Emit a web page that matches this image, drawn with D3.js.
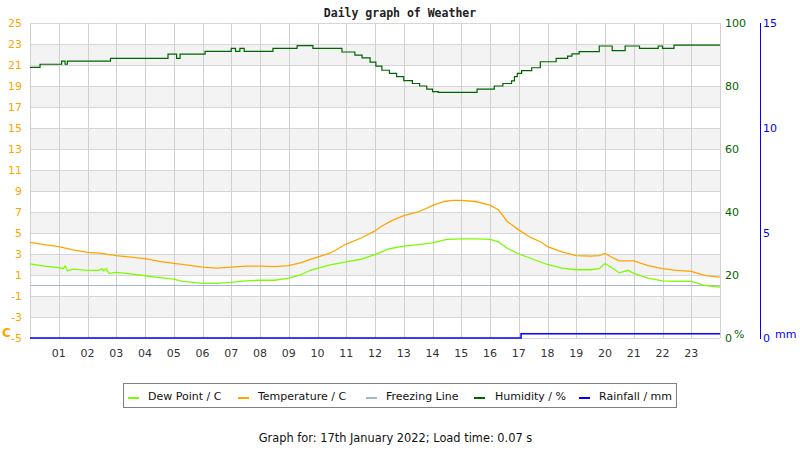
<!DOCTYPE html>
<html><head><meta charset="utf-8">
<script src="https://cdn.jsdelivr.net/npm/d3@7"></script>
<style>body{margin:0;background:#fff}svg{display:block;font-family:"DejaVu Sans",sans-serif}</style>
</head><body><svg id="c" width="800" height="450"></svg>
<script>
const hourLabels = ["01","02","03","04","05","06","07","08","09","10","11","12","13","14","15","16","17","18","19","20","21","22","23"];
const tempTicks = [-5,-3,-1,1,3,5,7,9,11,13,15,17,19,21,23,25];
const humTicks = [0,20,40,60,80,100];
const rainTicks = [0,5,10,15];

const tempTimes  = [0,0.5,1,1.5,2,2.5,3,3.5,4,4.5,5,5.5,6,6.5,7,7.5,8,8.5,9,9.4,9.7,10,10.45,11,11.5,12,12.2,12.6,13,13.5,14,14.4,14.7,15,15.5,16,16.3,16.6,17,17.4,17.8,18,18.5,19,19.5,19.8,20,20.3,20.5,21,21.5,22,22.5,23,23.5,24];
const tempValues = [4.1,3.9,3.7,3.4,3.15,3.05,2.85,2.7,2.55,2.3,2.1,1.95,1.75,1.65,1.75,1.85,1.85,1.8,1.9,2.15,2.45,2.7,3.1,3.95,4.5,5.2,5.6,6.2,6.65,7.0,7.6,8.0,8.1,8.1,8.0,7.65,7.2,6.1,5.3,4.6,4.1,3.7,3.2,2.85,2.8,2.85,3.05,2.6,2.35,2.35,1.9,1.6,1.45,1.35,0.95,0.8];

const dewTimes  = [0,0.5,1,1.15,1.22,1.3,1.5,2,2.4,2.5,2.55,2.65,2.75,3,3.5,4,4.5,5,5.3,5.7,6,6.5,7,7.5,8,8.5,9,9.4,9.75,10.4,11,11.5,12,12.5,13,13.5,14,14.5,15,15.5,16,16.3,16.6,17,17.5,18,18.5,19,19.5,19.8,20,20.3,20.5,20.8,21,21.5,22,22.5,23,23.5,24];
const dewValues = [2.05,1.85,1.7,1.6,1.85,1.4,1.55,1.45,1.45,1.6,1.4,1.6,1.16,1.25,1.1,0.93,0.75,0.6,0.4,0.3,0.2,0.2,0.3,0.45,0.5,0.5,0.7,1.0,1.45,1.95,2.25,2.5,2.95,3.5,3.75,3.9,4.05,4.4,4.45,4.45,4.4,4.15,3.55,3.0,2.5,2.0,1.65,1.5,1.5,1.6,2.1,1.6,1.2,1.45,1.15,0.7,0.45,0.4,0.4,0.0,-0.15];

const humTimes  = [0,0.35,1.1,1.22,1.3,2.8,4.8,5.1,5.22,6.09,7.0,7.15,7.3,7.45,8.45,9.29,9.84,10.85,11.3,11.55,11.83,12.03,12.24,12.5,12.75,13.0,13.3,13.55,13.8,14.0,14.2,15.55,16.15,16.45,16.75,16.85,16.95,17.1,17.45,17.75,18.3,18.7,18.85,19.1,19.8,20.25,20.7,21.2,21.85,22.0,22.4,24];
const humValues = [85.9,86.9,87.9,86.9,87.9,88.8,90.1,88.8,90.1,91.0,91.96,91.0,91.96,91.0,91.96,92.8,91.96,90.8,89.8,88.9,87.6,86.3,85.0,84.0,82.96,81.7,80.8,80.0,79.0,78.2,78.0,79.0,80.0,80.8,81.6,83.0,84.0,84.9,85.8,87.7,88.8,89.5,90.2,90.9,92.7,91.2,92.7,91.96,92.7,91.96,93.0,93.0];

const rainTimes  = [0,17.08,24];
const rainValues = [0,0.2,0.2];

const svg = d3.select("#c");
const L=30,R=720,T=23,B=338;
const x  = d3.scaleLinear([0,24],[L,R]);
const yT = d3.scaleLinear([-5,25],[B,T]);
const yH = d3.scaleLinear([0,100],[B,T]);
const yR = d3.scaleLinear([0,15],[B,T]);

svg.append("rect").attr("width",800).attr("height",450).attr("fill","#fff");

const bandStarts = [-3,1,5,9,13,17,21];
svg.selectAll("rect.band").data(bandStarts).enter().append("rect")
  .attr("x",L).attr("width",R-L)
  .attr("y",d=>yT(d+2)).attr("height",d=>yT(d)-yT(d+2)).attr("fill","#f3f3f3");

svg.selectAll("line.hg").data(tempTicks).enter().append("line")
  .attr("x1",L).attr("x2",R).attr("y1",d=>Math.round(yT(d))+0.5).attr("y2",d=>Math.round(yT(d))+0.5)
  .attr("stroke","#d6d6d6").attr("stroke-width",1);
svg.selectAll("line.vg").data(d3.range(0,25)).enter().append("line")
  .attr("y1",T).attr("y2",B).attr("x1",d=>Math.round(x(d))+0.5).attr("x2",d=>Math.round(x(d))+0.5)
  .attr("stroke","#d0d0d0").attr("stroke-width",1);

svg.append("text").attr("x",400).attr("y",17).attr("text-anchor","middle")
  .attr("font-family","DejaVu Sans Mono").attr("font-weight","bold").attr("font-size",11.5).attr("fill","#222")
  .text("Daily graph of Weather");

svg.selectAll("text.lt").data(tempTicks).enter().append("text")
  .attr("x",22).attr("y",d=>yT(d)+4).attr("text-anchor","end").attr("font-size",11).attr("fill","#ffa500")
  .text(d=>String(d));
svg.append("text").attr("x",2).attr("y",337).attr("font-size",12).attr("font-weight","bold").attr("fill","#ffa500").text("C");

svg.selectAll("text.ht").data(humTicks).enter().append("text")
  .attr("x",725).attr("y",d=>yH(d)+4).attr("font-size",11).attr("fill","#006400").text(d=>String(d));
svg.append("text").attr("x",734).attr("y",338).attr("font-size",11).attr("fill","#006400").text("%");

svg.append("line").attr("x1",760.5).attr("x2",760.5).attr("y1",T).attr("y2",B+1).attr("stroke","#0000ff").attr("stroke-width",1);
svg.selectAll("text.rt").data(rainTicks).enter().append("text")
  .attr("x",763).attr("y",d=>yR(d)+4).attr("font-size",11).attr("fill","#0000ff").text(d=>String(d));
svg.append("text").attr("x",775).attr("y",338).attr("font-size",11).attr("fill","#0000ff").text("mm");

svg.selectAll("text.xt").data(hourLabels).enter().append("text")
  .attr("x",(d,i)=>x(i+1)).attr("y",357).attr("text-anchor","middle").attr("font-size",11).attr("fill","#333")
  .text(d=>d);

svg.append("line").attr("x1",L).attr("x2",R).attr("y1",yT(0)).attr("y2",yT(0)).attr("stroke","#a8b6cb").attr("stroke-width",1);

const mk = (times,vals,ys,curve)=>d3.line().x((d,i)=>x(times[i])).y((d,i)=>ys(vals[i])).curve(curve)(vals);

svg.append("path").attr("d",mk(dewTimes,dewValues,yT,d3.curveLinear)).attr("fill","none").attr("stroke","#7cfc00").attr("stroke-width",1.3);
svg.append("path").attr("d",mk(tempTimes,tempValues,yT,d3.curveLinear)).attr("fill","none").attr("stroke","#ffa500").attr("stroke-width",1.3);
svg.append("path").attr("d",mk(humTimes,humValues,yH,d3.curveStepAfter)).attr("fill","none").attr("stroke","#006400").attr("stroke-width",1.2);
svg.append("path").attr("d",mk(rainTimes,rainValues,yR,d3.curveStepAfter)).attr("fill","none").attr("stroke","#0000ff").attr("stroke-width",1.5);

const legendItems = [
  {label:"Dew Point / C", color:"#7cfc00", sx:128, tx:148},
  {label:"Temperature / C", color:"#ffa500", sx:238, tx:258},
  {label:"Freezing Line", color:"#a8b6cb", sx:366, tx:386},
  {label:"Humidity / %", color:"#006400", sx:474, tx:495},
  {label:"Rainfall / mm", color:"#0000ff", sx:579, tx:599}
];
svg.append("rect").attr("x",123.5).attr("y",383.5).attr("width",553).attr("height",24)
  .attr("fill","#fff").attr("stroke","#808080").attr("stroke-width",1);
const lg = svg.selectAll("g.lg").data(legendItems).enter().append("g");
lg.append("line").attr("x1",d=>d.sx).attr("x2",d=>d.sx+11).attr("y1",398).attr("y2",398).attr("stroke",d=>d.color).attr("stroke-width",2);
lg.append("text").attr("x",d=>d.tx).attr("y",400).attr("font-size",11).attr("fill","#111").text(d=>d.label);

svg.append("text").attr("x",395.5).attr("y",442).attr("text-anchor","middle").attr("font-size",11.4).attr("fill","#111")
  .text("Graph for: 17th January 2022; Load time: 0.07 s");
</script></body></html>
